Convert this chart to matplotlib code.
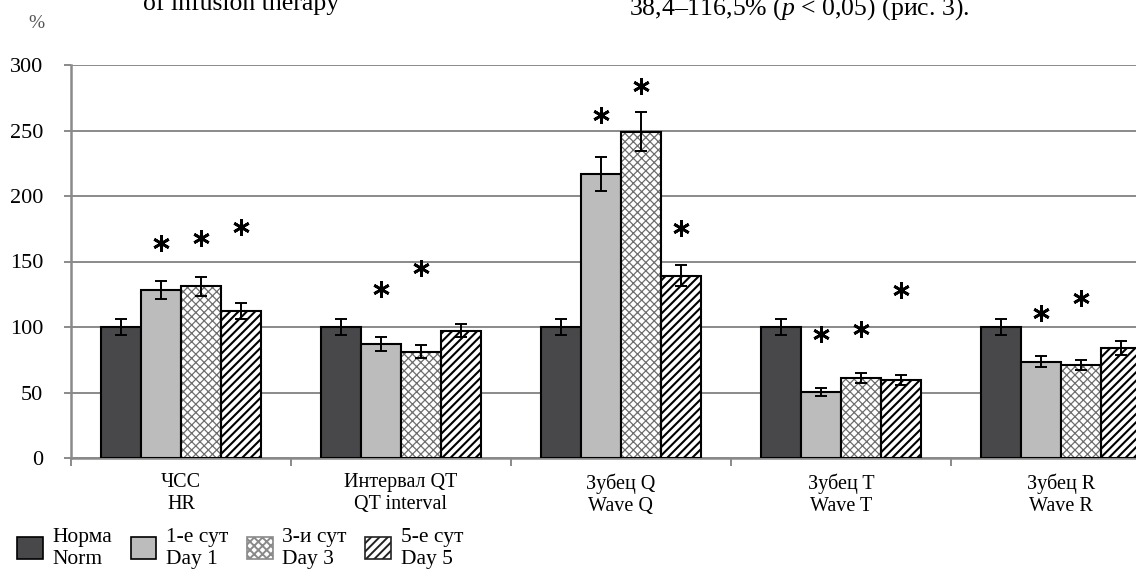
#imports
import numpy as np
from matplotlib import pyplot as plt
from matplotlib.patches import Patch

plt.rcParams['font.family'] = ['Liberation Serif', 'DejaVu Serif']
plt.rcParams['mathtext.fontset'] = 'custom'
plt.rcParams['mathtext.rm'] = 'Liberation Serif'
plt.rcParams['mathtext.it'] = 'Liberation Serif:italic'
plt.rcParams['hatch.linewidth'] = 1.4

#data
groups_ru = ["ЧСС", "Интервал QT", "Зубец Q", "Зубец T", "Зубец R"]
groups_en = ["HR", "QT interval", "Wave Q", "Wave T", "Wave R"]
series_ru = ["Норма", "1-е сут", "3-и сут", "5-е сут"]
series_en = ["Norm", "Day 1", "Day 3", "Day 5"]

norm = [100, 100, 100, 100, 100]
day1 = [128, 87, 217, 50.5, 73.5]
day3 = [131, 81, 249, 61, 70.8]
day5 = [112, 97, 139, 59.5, 84]

norm_err = [6, 6, 6, 6, 6]
day1_err = [7, 5, 13, 3, 4]
day3_err = [7, 5, 15, 4, 4]
day5_err = [6, 5, 8, 4, 5]

#heights of the significance stars (None = no star)
star1 = [164, 129, 262, 95, 110.5]
star3 = [168, 145, 284, 98.5, 122]
star5 = [176, None, 175.6, 128, None]

yticks = [0, 50, 100, 150, 200, 250, 300]

#figure
fig = plt.figure(figsize=(11.36, 5.79), dpi=100)
ax = fig.add_axes([71 / 1136, 121 / 579, 1100 / 1136, 393 / 579])

grid_col = "#8a8a8a"
w = 40 / 220
centers = np.arange(len(groups_ru)) + 0.5
offsets = [-1.5 * w, -0.5 * w, 0.5 * w, 1.5 * w]

values = [norm, day1, day3, day5]
errors = [norm_err, day1_err, day3_err, day5_err]
faces = ["#48484a", "#bcbcbc", "white", "white"]
hatches = [None, None, "xxxx", "////"]
hatch_cols = [None, None, "#6e6e6e", "black"]
hatch_lws = [None, None, 0.9, 1.5]


def set_hlw(patch, lw):
    #per-artist hatch width only on newer matplotlib
    if hasattr(patch, "set_hatch_linewidth"):
        patch.set_hatch_linewidth(lw)


for k in range(4):
    xs = centers + offsets[k]
    if hatches[k] is None:
        ax.bar(xs, values[k], width=w, color=faces[k], edgecolor="black",
               linewidth=1.5, zorder=3)
    else:
        bars = ax.bar(xs, values[k], width=w, color=faces[k], edgecolor=hatch_cols[k],
                      hatch=hatches[k], linewidth=0, zorder=3)
        for b in bars:
            set_hlw(b, hatch_lws[k])
        ax.bar(xs, values[k], width=w, fill=False, edgecolor="black",
               linewidth=1.5, zorder=4)
    ax.errorbar(xs, values[k], yerr=errors[k], fmt="none", ecolor="black",
                elinewidth=1.4, capsize=4.5, capthick=1.4, zorder=5)

#stars
for k, stars in [(1, star1), (2, star3), (3, star5)]:
    for i, s in enumerate(stars):
        if s is not None:
            ax.plot(centers[i] + offsets[k], s, marker=(6, 2, 0), markersize=12,
                    mew=2.0, color="black", zorder=6, clip_on=False)

#axes styling
ax.set_xlim(0, 5)
ax.set_ylim(0, 300)
ax.set_yticks(yticks)
ax.yaxis.grid(True, color=grid_col, linewidth=1.4, zorder=0)
ax.set_axisbelow(True)
for side in ["top", "right"]:
    ax.spines[side].set_visible(False)
for side in ["left", "bottom"]:
    ax.spines[side].set_color(grid_col)
    ax.spines[side].set_linewidth(1.8)
ax.tick_params(axis="y", direction="out", length=5, width=1.4, color=grid_col,
               pad=15, labelsize=16)
ax.set_xticks(np.arange(0, 6))
ax.set_xticklabels([])
ax.tick_params(axis="x", which="major", direction="out", length=6, width=1.4,
               color=grid_col)
ax.set_xticks(centers, minor=True)
ax.set_xticklabels([a + "\n" + b for a, b in zip(groups_ru, groups_en)],
                   minor=True, fontsize=14.5, linespacing=1.2)
ax.tick_params(axis="x", which="minor", length=0, pad=11)

#cut text from the page
fig.text(143 / 1136, 1 - 10 / 579, "of infusion therapy", fontsize=18.5,
         va="baseline", ha="left")
fig.text(629 / 1136, 1 - 15 / 579,
         r"38,4–116,5% ($\it{p}$ < 0,05) (рис. 3).", fontsize=18.5,
         va="baseline", ha="left")
fig.text(36.5 / 1136, 1 - 23 / 579, "%", fontsize=14, color="#555555",
         ha="center", va="center")

#legend
leg_edges = ["black", "black", "#8a8a8a", "#222222"]
handles = []
for k in range(4):
    if hatches[k] is None:
        handles.append(Patch(facecolor=faces[k], edgecolor=leg_edges[k], linewidth=1.2))
    else:
        hp = Patch(facecolor="white", edgecolor=leg_edges[k], hatch=hatches[k],
                   linewidth=1.2)
        set_hlw(hp, hatch_lws[k])
        handles.append(hp)
labels = [a + "\n" + b for a, b in zip(series_ru, series_en)]
fig.legend(handles, labels, loc="upper left", bbox_to_anchor=(17 / 1136, 1 - 528 / 579),
           ncol=4, frameon=False, fontsize=15.5, handlelength=1.2, handleheight=1.2,
           handletextpad=0.45, columnspacing=0.85, borderpad=0, borderaxespad=0)

fig.savefig("out.png", dpi=100)
